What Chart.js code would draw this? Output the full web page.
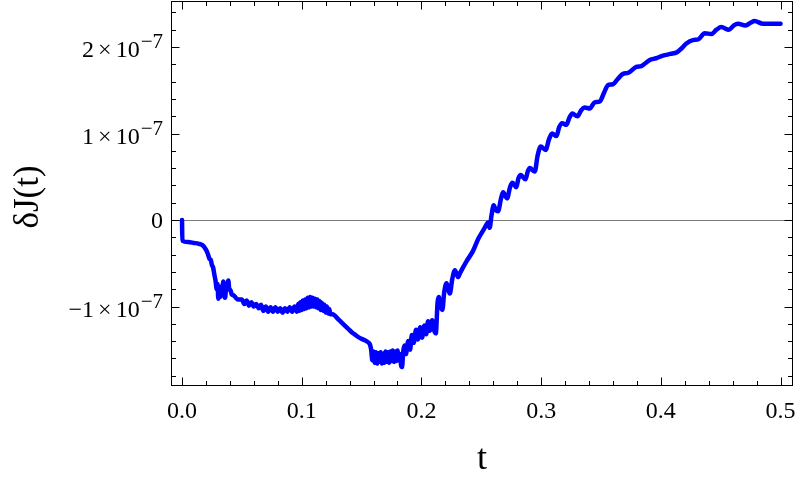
<!DOCTYPE html>
<html>
<head>
<meta charset="utf-8">
<script src="https://cdn.jsdelivr.net/npm/chart.js@4.4.1/dist/chart.umd.min.js"></script>
<style>
  html, body { margin: 0; padding: 0; background: #fff; }
  canvas { display: block; }
</style>
</head>
<body>
<canvas id="chart" width="800" height="482"></canvas>
<script>
/* DATA (deltaJ in units of 1e-7) */
const tValues = [
  0, 0.0003, 0.005, 0.010, 0.014, 0.017, 0.019, 0.021, 0.022, 0.023,
  0.024, 0.025, 0.026, 0.027, 0.028, 0.029, 0.0297, 0.0303, 0.031, 0.0318,
  0.0326, 0.0334, 0.0345, 0.0352, 0.036, 0.0368, 0.0378, 0.0387, 0.0395, 0.0405,
  0.0415, 0.043, 0.045, 0.047, 0.050, 0.052, 0.054, 0.056, 0.058, 0.060,
  0.062, 0.064, 0.066, 0.068, 0.070, 0.072, 0.074, 0.076, 0.078, 0.080,
  0.082, 0.084, 0.086, 0.088, 0.090, 0.092, 0.094, 0.096, 0.097, 0.098,
  0.099, 0.100, 0.101, 0.102, 0.103, 0.104, 0.105, 0.106, 0.107, 0.108,
  0.109, 0.110, 0.111, 0.112, 0.113, 0.114, 0.115, 0.116, 0.117, 0.118,
  0.119, 0.120, 0.121, 0.122, 0.123, 0.124, 0.126, 0.128, 0.130, 0.133,
  0.136, 0.139, 0.142, 0.145, 0.148, 0.151, 0.154, 0.156, 0.157, 0.158,
  0.159, 0.160, 0.161, 0.162, 0.163, 0.164, 0.165, 0.166, 0.167, 0.168,
  0.169, 0.170, 0.171, 0.172, 0.173, 0.174, 0.175, 0.176, 0.177, 0.178,
  0.179, 0.180, 0.181, 0.182, 0.183, 0.1838, 0.1848, 0.1858, 0.187, 0.189,
  0.1905, 0.192, 0.1935, 0.1955, 0.197, 0.199, 0.2005, 0.2025, 0.204, 0.2055,
  0.207, 0.209, 0.2105, 0.212, 0.2135, 0.2145, 0.216, 0.2175, 0.219, 0.221,
  0.2225, 0.2237, 0.2258, 0.228, 0.2295, 0.2306, 0.232, 0.238, 0.243, 0.2474,
  0.252, 0.2545, 0.2557, 0.257, 0.2585, 0.2604, 0.262, 0.264, 0.2665, 0.2682,
  0.2716, 0.274, 0.276, 0.2793, 0.281, 0.283, 0.2869, 0.2888, 0.2905, 0.2947,
  0.297, 0.2997, 0.3038, 0.3065, 0.3091, 0.3128, 0.315, 0.3175, 0.3211, 0.3235,
  0.3261, 0.3303, 0.3335, 0.3364, 0.3406, 0.3447, 0.3489, 0.3525, 0.3559, 0.360,
  0.364, 0.3684, 0.3726, 0.3795, 0.3837, 0.3907, 0.396, 0.4018, 0.408, 0.4135,
  0.417, 0.4213, 0.4268, 0.4315, 0.4366, 0.4421, 0.4465, 0.4505, 0.4569, 0.461,
  0.4644, 0.4708, 0.475, 0.4783, 0.4853, 0.4922, 0.500
];
const deltaJ = [
  0, -0.24, -0.255, -0.265, -0.275, -0.29, -0.32, -0.37, -0.41, -0.45,
  -0.46, -0.52, -0.55, -0.63, -0.70, -0.80, -0.74, -0.91, -0.79, -0.89,
  -0.77, -0.86, -0.71, -0.87, -0.90, -0.78, -0.74, -0.70, -0.80, -0.81,
  -0.86, -0.87, -0.90, -0.92, -0.92, -0.97, -0.93, -0.99, -0.95, -1.00,
  -0.97, -1.02, -0.98, -1.05, -1.00, -1.06, -1.01, -1.06, -1.01, -1.06,
  -1.02, -1.07, -1.02, -1.06, -1.01, -1.06, -1.00, -1.06, -0.97, -1.05,
  -0.95, -1.04, -0.93, -1.03, -0.92, -1.02, -0.90, -1.01, -0.89, -1.00,
  -0.90, -1.00, -0.91, -1.01, -0.92, -1.02, -0.94, -1.04, -0.96, -1.05,
  -0.98, -1.07, -1.00, -1.08, -1.03, -1.09, -1.09, -1.11, -1.14, -1.18,
  -1.22, -1.26, -1.30, -1.33, -1.36, -1.38, -1.40, -1.42, -1.44, -1.50,
  -1.62, -1.52, -1.65, -1.53, -1.66, -1.54, -1.64, -1.53, -1.66, -1.55,
  -1.65, -1.52, -1.64, -1.53, -1.65, -1.52, -1.63, -1.51, -1.64, -1.52,
  -1.63, -1.51, -1.62, -1.55, -1.68, -1.70, -1.52, -1.45, -1.55, -1.40,
  -1.50, -1.33, -1.42, -1.27, -1.38, -1.24, -1.36, -1.22, -1.32, -1.17,
  -1.28, -1.16, -1.27, -1.31, -0.95, -0.89, -1.00, -1.04, -0.84, -0.73,
  -0.80, -0.85, -0.68, -0.58, -0.63, -0.66, -0.62, -0.47, -0.36, -0.22,
  -0.11, -0.05, -0.03, -0.09, 0.05, 0.17, 0.12, 0.10, 0.25, 0.32,
  0.25, 0.38, 0.43, 0.38, 0.48, 0.52, 0.47, 0.56, 0.60, 0.56,
  0.74, 0.85, 0.81, 0.93, 1.00, 0.97, 1.07, 1.12, 1.10, 1.18,
  1.23, 1.20, 1.27, 1.30, 1.29, 1.36, 1.37, 1.47, 1.56, 1.57,
  1.63, 1.69, 1.70, 1.77, 1.78, 1.85, 1.87, 1.90, 1.92, 1.94,
  1.98, 2.04, 2.08, 2.09, 2.16, 2.15, 2.20, 2.23, 2.20, 2.25,
  2.27, 2.25, 2.28, 2.30, 2.27, 2.27, 2.27
];

/* AXES */
const xTicks = [0, 0.1, 0.2, 0.3, 0.4, 0.5];
const xTickLabels = ["0.0", "0.1", "0.2", "0.3", "0.4", "0.5"];
const yTicks = [-1, 0, 1, 2];
const yTickMantissa = ["\u22121", "0", "1", "2"];
const yExponent = "\u22127";
const xTitle = "t";
const yTitle = "\u03b4J(t)";

const X_MIN = -0.0092, X_MAX = 0.5104;
const Y_MIN = -1.919, Y_MAX = 2.532;
const SERIF = '"Liberation Serif", "Times New Roman", serif';

const points = tValues.map((t, i) => ({ x: t, y: deltaJ[i] }));

/* FRAME + TICKS + LABELS */
const framePlugin = {
  id: "frame",
  beforeDatasetsDraw(chart){
    const { ctx, chartArea: a, scales: { y } } = chart;
    const y0 = Math.round(y.getPixelForValue(0)) + 0.5;
    ctx.save();
    ctx.strokeStyle = "#7a7a7a";
    ctx.lineWidth = 1;
    ctx.beginPath();
    ctx.moveTo(a.left, y0);
    ctx.lineTo(a.right, y0);
    ctx.stroke();
    ctx.restore();
  },
  afterDatasetsDraw(chart){
    const { ctx, chartArea: a, scales: { x, y } } = chart;
    const L = Math.round(a.left) + 0.5, R = Math.round(a.right) - 0.5;
    const T = Math.round(a.top) + 0.5, B = Math.round(a.bottom) - 0.5;
    ctx.save();
    ctx.strokeStyle = "#000";
    ctx.lineWidth = 1;
    ctx.strokeRect(L, T, R - L, B - T);

    const major = 8, minor = 4.5;
    ctx.beginPath();
    // x ticks, top and bottom, pointing in
    for(let k = 0; k <= 26; k++){
      const v = k * 0.02;
      if(v < X_MIN || v > X_MAX) continue;
      const len = (k % 5 === 0) ? major : minor;
      const px = Math.round(x.getPixelForValue(v)) + 0.5;
      ctx.moveTo(px, B); ctx.lineTo(px, B - len);
      ctx.moveTo(px, T); ctx.lineTo(px, T + len);
    }
    // y ticks, left and right
    for(let k = -10; k <= 13; k++){
      const v = k * 0.2;
      if(v < Y_MIN || v > Y_MAX) continue;
      const len = (k % 5 === 0) ? major : minor;
      const py = Math.round(y.getPixelForValue(v)) + 0.5;
      ctx.moveTo(L, py); ctx.lineTo(L + len, py);
      ctx.moveTo(R, py); ctx.lineTo(R - len, py);
    }
    ctx.stroke();

    ctx.fillStyle = "#000";
    // x labels
    ctx.font = "24px " + SERIF;
    ctx.textAlign = "center";
    ctx.textBaseline = "alphabetic";
    xTicks.forEach((v, i) => {
      ctx.fillText(xTickLabels[i], x.getPixelForValue(v), 418);
    });

    // y labels
    const rightEdge = a.left - 8;
    yTicks.forEach((v, i) => {
      const py = y.getPixelForValue(v);
      ctx.textAlign = "right";
      if(v === 0){
        ctx.font = "24px " + SERIF;
        ctx.fillText("0", rightEdge, py + 8);
        return;
      }
      ctx.font = "21px " + SERIF;
      const expW = ctx.measureText(yExponent).width;
      ctx.fillText(yExponent, rightEdge, py + 1);
      ctx.font = "24px " + SERIF;
      let xr = rightEdge - expW - 1;
      ctx.fillText("10", xr, py + 10);
      xr -= ctx.measureText("10").width + 4;
      ctx.fillText("\u00d7", xr, py + 10);
      xr -= ctx.measureText("\u00d7").width + 4;
      ctx.fillText(yTickMantissa[i], xr, py + 10);
    });

    // axis titles
    ctx.textAlign = "center";
    ctx.font = "36px " + SERIF;
    ctx.fillText(xTitle, (a.left + a.right) / 2, 469);
    ctx.save();
    ctx.translate(38, 197);
    ctx.rotate(-Math.PI / 2);
    ctx.font = "35px " + SERIF;
    ctx.fillText(yTitle, 0, 0);
    ctx.restore();

    ctx.restore();
  }
};

new Chart(document.getElementById("chart"), {
  type: "line",
  data: {
    datasets: [{
      data: points,
      borderColor: "#0000ff",
      borderWidth: 4.5,
      pointRadius: 0,
      fill: false,
      cubicInterpolationMode: "monotone",
      borderJoinStyle: "round",
      borderCapStyle: "round"
    }]
  },
  options: {
    responsive: false,
    animation: false,
    devicePixelRatio: 1,
    layout: { padding: { left: 171, right: 7, top: 1, bottom: 96 } },
    plugins: { legend: { display: false }, tooltip: { enabled: false } },
    scales: {
      x: { type: "linear", min: X_MIN, max: X_MAX, display: false },
      y: { type: "linear", min: Y_MIN, max: Y_MAX, display: false }
    }
  },
  plugins: [framePlugin]
});
</script>
</body>
</html>
